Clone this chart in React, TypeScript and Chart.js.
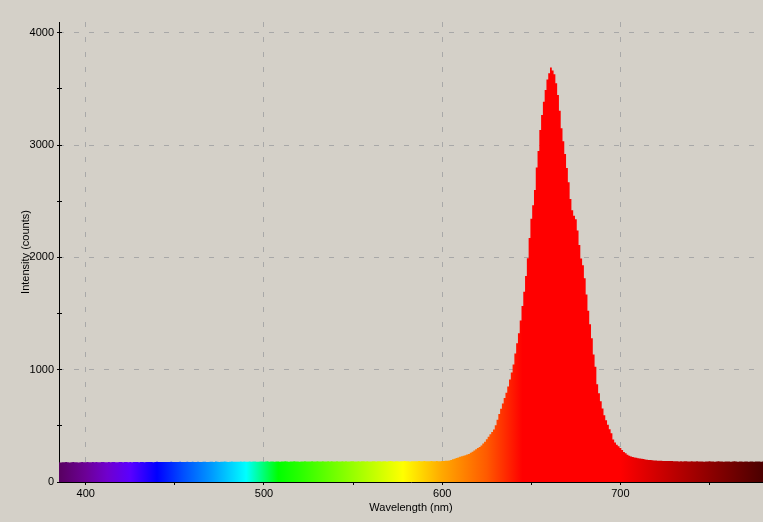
import React, { useEffect, useRef } from "react";
import { Chart, registerables } from "chart.js";

Chart.register(...registerables);

// ---- data (counts, 1 nm sampling) ----
const LEFT_START_NM = 385; // 385 .. 599 nm
const BASE_LEFT = [
  175, 174, 176, 175, 177, 175, 174, 176, 178, 175, 176, 174, 175, 177, 176, 175, 178, 176, 175, 177,
  176, 178, 175, 176, 177, 179, 176, 175, 177, 176, 178, 177, 175, 176, 178, 177, 176, 179, 177, 176,
  177, 176, 178, 177, 179, 176, 177, 178, 176, 177, 179, 178, 177, 176, 178, 180, 177, 178, 179, 177,
  178, 177, 179, 180, 178, 177, 179, 178, 180, 179, 177, 178, 180, 179, 178, 181, 179, 178, 180, 179,
  179, 181, 180, 178, 179, 181, 180, 179, 182, 180, 179, 181, 180, 182, 181, 179, 180, 182, 181, 180,
  181, 180, 182, 181, 183, 180, 181, 182, 181, 183, 182, 180, 181, 183, 182, 181, 182, 184, 181, 182,
  182, 181, 183, 182, 181, 183, 182, 184, 182, 181, 183, 182, 184, 183, 182, 181, 183, 182, 184, 182,
  183, 182, 184, 183, 182, 185, 183, 182, 184, 183, 182, 184, 183, 185, 182, 183, 184, 183, 182, 184,
  183, 184, 182, 183, 185, 184, 183, 182, 184, 183, 185, 184, 183, 184, 182, 183, 185, 184, 183, 184,
  184, 183, 185, 184, 183, 184, 186, 184, 183, 185, 184, 183, 185, 184, 186, 185, 184, 183, 185, 184,
  185, 184, 186, 185, 184, 186, 185, 184, 185, 186, 184, 185, 186, 185, 184,
];

const PEAK_START_NM = 600; // 600 .. 720 nm
const PEAK = [
  186, 187, 189, 190, 192, 197, 202, 208, 213, 218,
  224, 229, 234, 239, 244, 250, 260, 270, 280, 292,
  302, 312, 326, 342, 358, 380, 402, 425, 445, 468,
  505, 555, 605, 652, 700, 748, 795, 850, 912, 975,
  1047, 1145, 1236, 1324, 1437, 1567, 1695, 1835, 1992, 2172,
  2345, 2465, 2600, 2800, 2948, 3135, 3268, 3385, 3491, 3585,
  3639, 3690, 3665, 3630, 3550, 3445, 3305, 3150, 3035, 2920,
  2795, 2670, 2520, 2420, 2370, 2340, 2240, 2110, 1990, 1930,
  1815, 1670, 1525, 1405, 1280, 1135, 1027, 870, 790, 720,
  655, 595, 550, 510, 470, 434, 378, 352, 332, 318,
  302, 284, 268, 255, 243, 234, 227, 222, 218, 215,
  212, 210, 207, 204, 201, 199, 197, 195, 193, 192,
  191,
];

const RIGHT_START_NM = 721; // 721 .. 780 nm
const BASE_RIGHT = [
  190, 189, 189, 188, 188, 187, 187, 186, 186, 185,
  184, 185, 183, 184, 183, 185, 184, 183, 182, 184,
  183, 182, 184, 183, 182, 183, 181, 183, 182, 184,
  182, 183, 181, 182, 184, 183, 182, 181, 183, 182,
  183, 181, 182, 184, 182, 181, 183, 182, 181, 182,
  183, 181, 182, 183, 181, 182, 183, 182, 181, 182,
];

const X_MIN = 385;
const X_MAX = 780;
const Y_MIN = 0;
const Y_MAX = 4096;
const X_TICKS = [400, 450, 500, 550, 600, 650, 700, 750];
const X_LABELS = [400, 500, 600, 700];
const Y_TICKS = [0, 500, 1000, 1500, 2000, 2500, 3000, 3500, 4000];
const Y_LABELS = [0, 1000, 2000, 3000, 4000];
const X_TITLE = "Wavelength (nm)";
const Y_TITLE = "Intensity (counts)";

// wavelength -> colour used for the fill (style)
const SPECTRUM_STOPS: [number, string][] = [
  [385, "rgb(88,0,96)"],
  [400, "rgb(108,0,150)"],
  [412, "rgb(112,0,205)"],
  [425, "rgb(90,0,255)"],
  [440, "rgb(0,0,255)"],
  [455, "rgb(0,80,255)"],
  [470, "rgb(0,150,255)"],
  [490, "rgb(0,255,255)"],
  [508, "rgb(0,255,0)"],
  [520, "rgb(40,255,0)"],
  [578, "rgb(255,255,0)"],
  [600, "rgb(255,168,0)"],
  [625, "rgb(255,90,0)"],
  [645, "rgb(255,0,0)"],
  [700, "rgb(255,0,0)"],
  [780, "rgb(75,0,0)"],
];

const BG = "#d4d0c8";
const GRID = "#a8a8a8";
const FONT = { family: '"Liberation Sans", Arial, sans-serif', size: 11 };

function toPoints(start: number, arr: number[]) {
  return arr.map((v, i) => ({ x: start + i, y: v }));
}

function spectrumFill(context: any) {
  const chart = context.chart;
  const a = chart.chartArea;
  const xs = chart.scales && chart.scales.x;
  if (!a || !xs) return "#ff0000";
  const g = chart.ctx.createLinearGradient(a.left, 0, a.right, 0);
  for (const [wl, col] of SPECTRUM_STOPS) {
    const off = (xs.getPixelForValue(wl) - a.left) / (a.right - a.left);
    g.addColorStop(Math.min(1, Math.max(0, off)), col);
  }
  return g;
}

const bgPlugin = {
  id: "bgFill",
  beforeDraw(chart: any) {
    const c = chart.ctx;
    c.save();
    c.fillStyle = BG;
    c.fillRect(0, 0, chart.width, chart.height);
    c.restore();
  },
};

const gridPlugin = {
  id: "dashGrid",
  beforeDatasetsDraw(chart: any) {
    const { ctx, chartArea: a, scales } = chart;
    const x = scales.x;
    const y = scales.y;
    ctx.save();
    ctx.strokeStyle = GRID;
    ctx.lineWidth = 1;
    ctx.setLineDash([5, 10]);
    for (const v of X_LABELS) {
      const px = Math.floor(x.getPixelForValue(v)) + 0.5;
      ctx.beginPath();
      ctx.moveTo(px, a.top);
      ctx.lineTo(px, a.bottom);
      ctx.stroke();
    }
    for (const v of Y_LABELS) {
      if (v === 0) continue;
      const py = Math.floor(y.getPixelForValue(v)) + 0.5;
      ctx.beginPath();
      ctx.moveTo(a.left, py);
      ctx.lineTo(a.right, py);
      ctx.stroke();
    }
    ctx.restore();
  },
  afterDatasetsDraw(chart: any) {
    const { ctx, chartArea: a, scales } = chart;
    ctx.save();
    ctx.strokeStyle = "#000";
    ctx.lineWidth = 1;
    for (const v of Y_TICKS) {
      const py = Math.floor(scales.y.getPixelForValue(v)) + 0.5;
      ctx.beginPath();
      ctx.moveTo(a.left, py);
      ctx.lineTo(a.left + 3, py);
      ctx.stroke();
    }
    ctx.restore();
  },
};

export default function App() {
  const ref = useRef<HTMLCanvasElement>(null);

  useEffect(() => {
    const canvas = ref.current;
    if (!canvas) return;
    const data = [
      ...toPoints(LEFT_START_NM, BASE_LEFT),
      ...toPoints(PEAK_START_NM, PEAK),
      ...toPoints(RIGHT_START_NM, BASE_RIGHT),
    ];
    const chart = new Chart(canvas, {
      type: "line",
      data: {
        datasets: [
          {
            data,
            stepped: "middle",
            fill: "origin",
            borderWidth: 0,
            borderColor: "rgba(0,0,0,0)",
            pointRadius: 0,
            backgroundColor: spectrumFill,
          } as any,
        ],
      },
      options: {
        animation: false,
        responsive: false,
        devicePixelRatio: 1,
        layout: { padding: { top: 22, left: 0, right: 0, bottom: 0 } },
        plugins: { legend: { display: false }, tooltip: { enabled: false } },
        scales: {
          x: {
            type: "linear",
            min: X_MIN,
            max: X_MAX,
            offset: false,
            afterBuildTicks: (s: any) => {
              s.ticks = X_TICKS.map((v) => ({ value: v }));
            },
            afterFit: (s: any) => {
              s.height = 40;
            },
            border: { display: true, color: "#000", width: 1 },
            grid: { display: true, drawOnChartArea: false, drawTicks: true, tickLength: 3, color: "#000" },
            ticks: {
              autoSkip: false,
              maxRotation: 0,
              padding: 2,
              color: "#000",
              font: FONT,
              callback: (v: any) => (X_LABELS.includes(Math.round(Number(v))) ? String(Math.round(Number(v))) : ""),
            },
            title: { display: true, text: X_TITLE, color: "#000", font: FONT, padding: { top: 0, bottom: 7 } },
          },
          y: {
            type: "linear",
            min: Y_MIN,
            max: Y_MAX,
            afterBuildTicks: (s: any) => {
              s.ticks = Y_TICKS.map((v) => ({ value: v }));
            },
            afterFit: (s: any) => {
              s.width = 59;
            },
            border: { display: true, color: "#000", width: 1 },
            grid: { display: true, drawOnChartArea: false, drawTicks: true, tickLength: 2, color: "#000" },
            ticks: {
              autoSkip: false,
              padding: 3,
              color: "#000",
              font: FONT,
              callback: (v: any) => (Y_LABELS.includes(Math.round(Number(v))) ? String(Math.round(Number(v))) : ""),
            },
            title: { display: true, text: Y_TITLE, color: "#000", font: FONT, padding: { top: 19, bottom: 0 } },
          },
        },
      },
      plugins: [bgPlugin, gridPlugin],
    } as any);
    return () => chart.destroy();
  }, []);

  return (
    <div style={{ position: "fixed", left: 0, top: 0, width: 763, height: 522, background: BG }}>
      <canvas ref={ref} width={763} height={522} style={{ display: "block", width: 763, height: 522 }} />
    </div>
  );
}
